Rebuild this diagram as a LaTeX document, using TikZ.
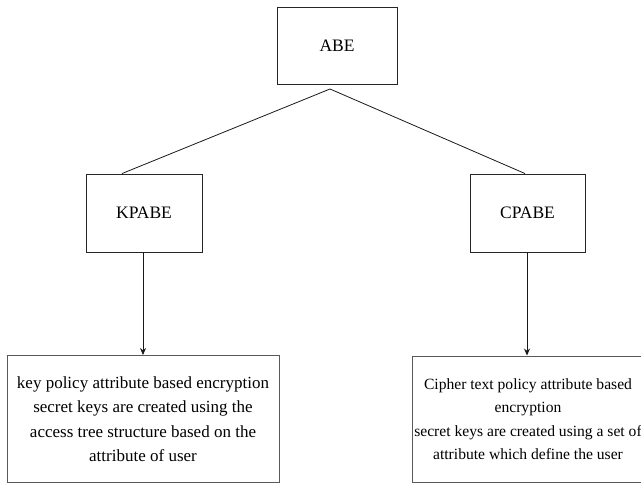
\documentclass[tikz,border=0pt]{standalone}
\usepackage{fontspec}
\setmainfont{Liberation Serif}
\usetikzlibrary{arrows.meta}
\begin{document}
\begin{tikzpicture}[x=1pt,y=-1pt,
  topbox/.style={draw=black!85, line width=0.9pt, rectangle, inner sep=0pt, font=\fontsize{17.5}{21}\selectfont},
  botbox/.style={draw=black!65, line width=0.9pt, rectangle, inner sep=0pt, align=center, font=\fontsize{17}{24.5}\selectfont},
  conn/.style={draw=black!90, line width=0.8pt},
  arr/.style={conn, -{Stealth[length=7pt,width=6pt]}}]
\useasboundingbox (0,0) rectangle (641,484);
\node[topbox, minimum width=120pt, minimum height=77pt] (abe) at (337,45.5) {ABE};
\node[topbox, minimum width=116pt, minimum height=78pt] (kp) at (144,213) {KPABE};
\node[topbox, minimum width=115pt, minimum height=78pt] (cp) at (527.5,213) {CPABE};
\node[botbox, minimum width=272pt, minimum height=127pt] (lb) at (143,419) {key policy attribute based encryption\\secret keys are created using the\\access tree structure based on the\\attribute of user};
\node[botbox, minimum width=232pt, minimum height=126pt, font=\fontsize{15.6}{23.5}\selectfont] (rb) at (528,419) {Cipher text policy attribute based\\encryption\\secret keys are created using a set of\\attribute which define the user};
\coordinate (apex) at (330,89);
\draw[conn] (apex) -- ([xshift=-22pt]kp.north);
\draw[conn] (apex) -- ([xshift=-2.5pt]cp.north);
\draw[arr] ([xshift=-1pt]kp.south) -- ([xshift=-1pt]kp.south |- lb.north);
\draw[arr] ([xshift=-0.5pt]cp.south) -- ([xshift=-0.5pt]cp.south |- rb.north);
\end{tikzpicture}
\end{document}
